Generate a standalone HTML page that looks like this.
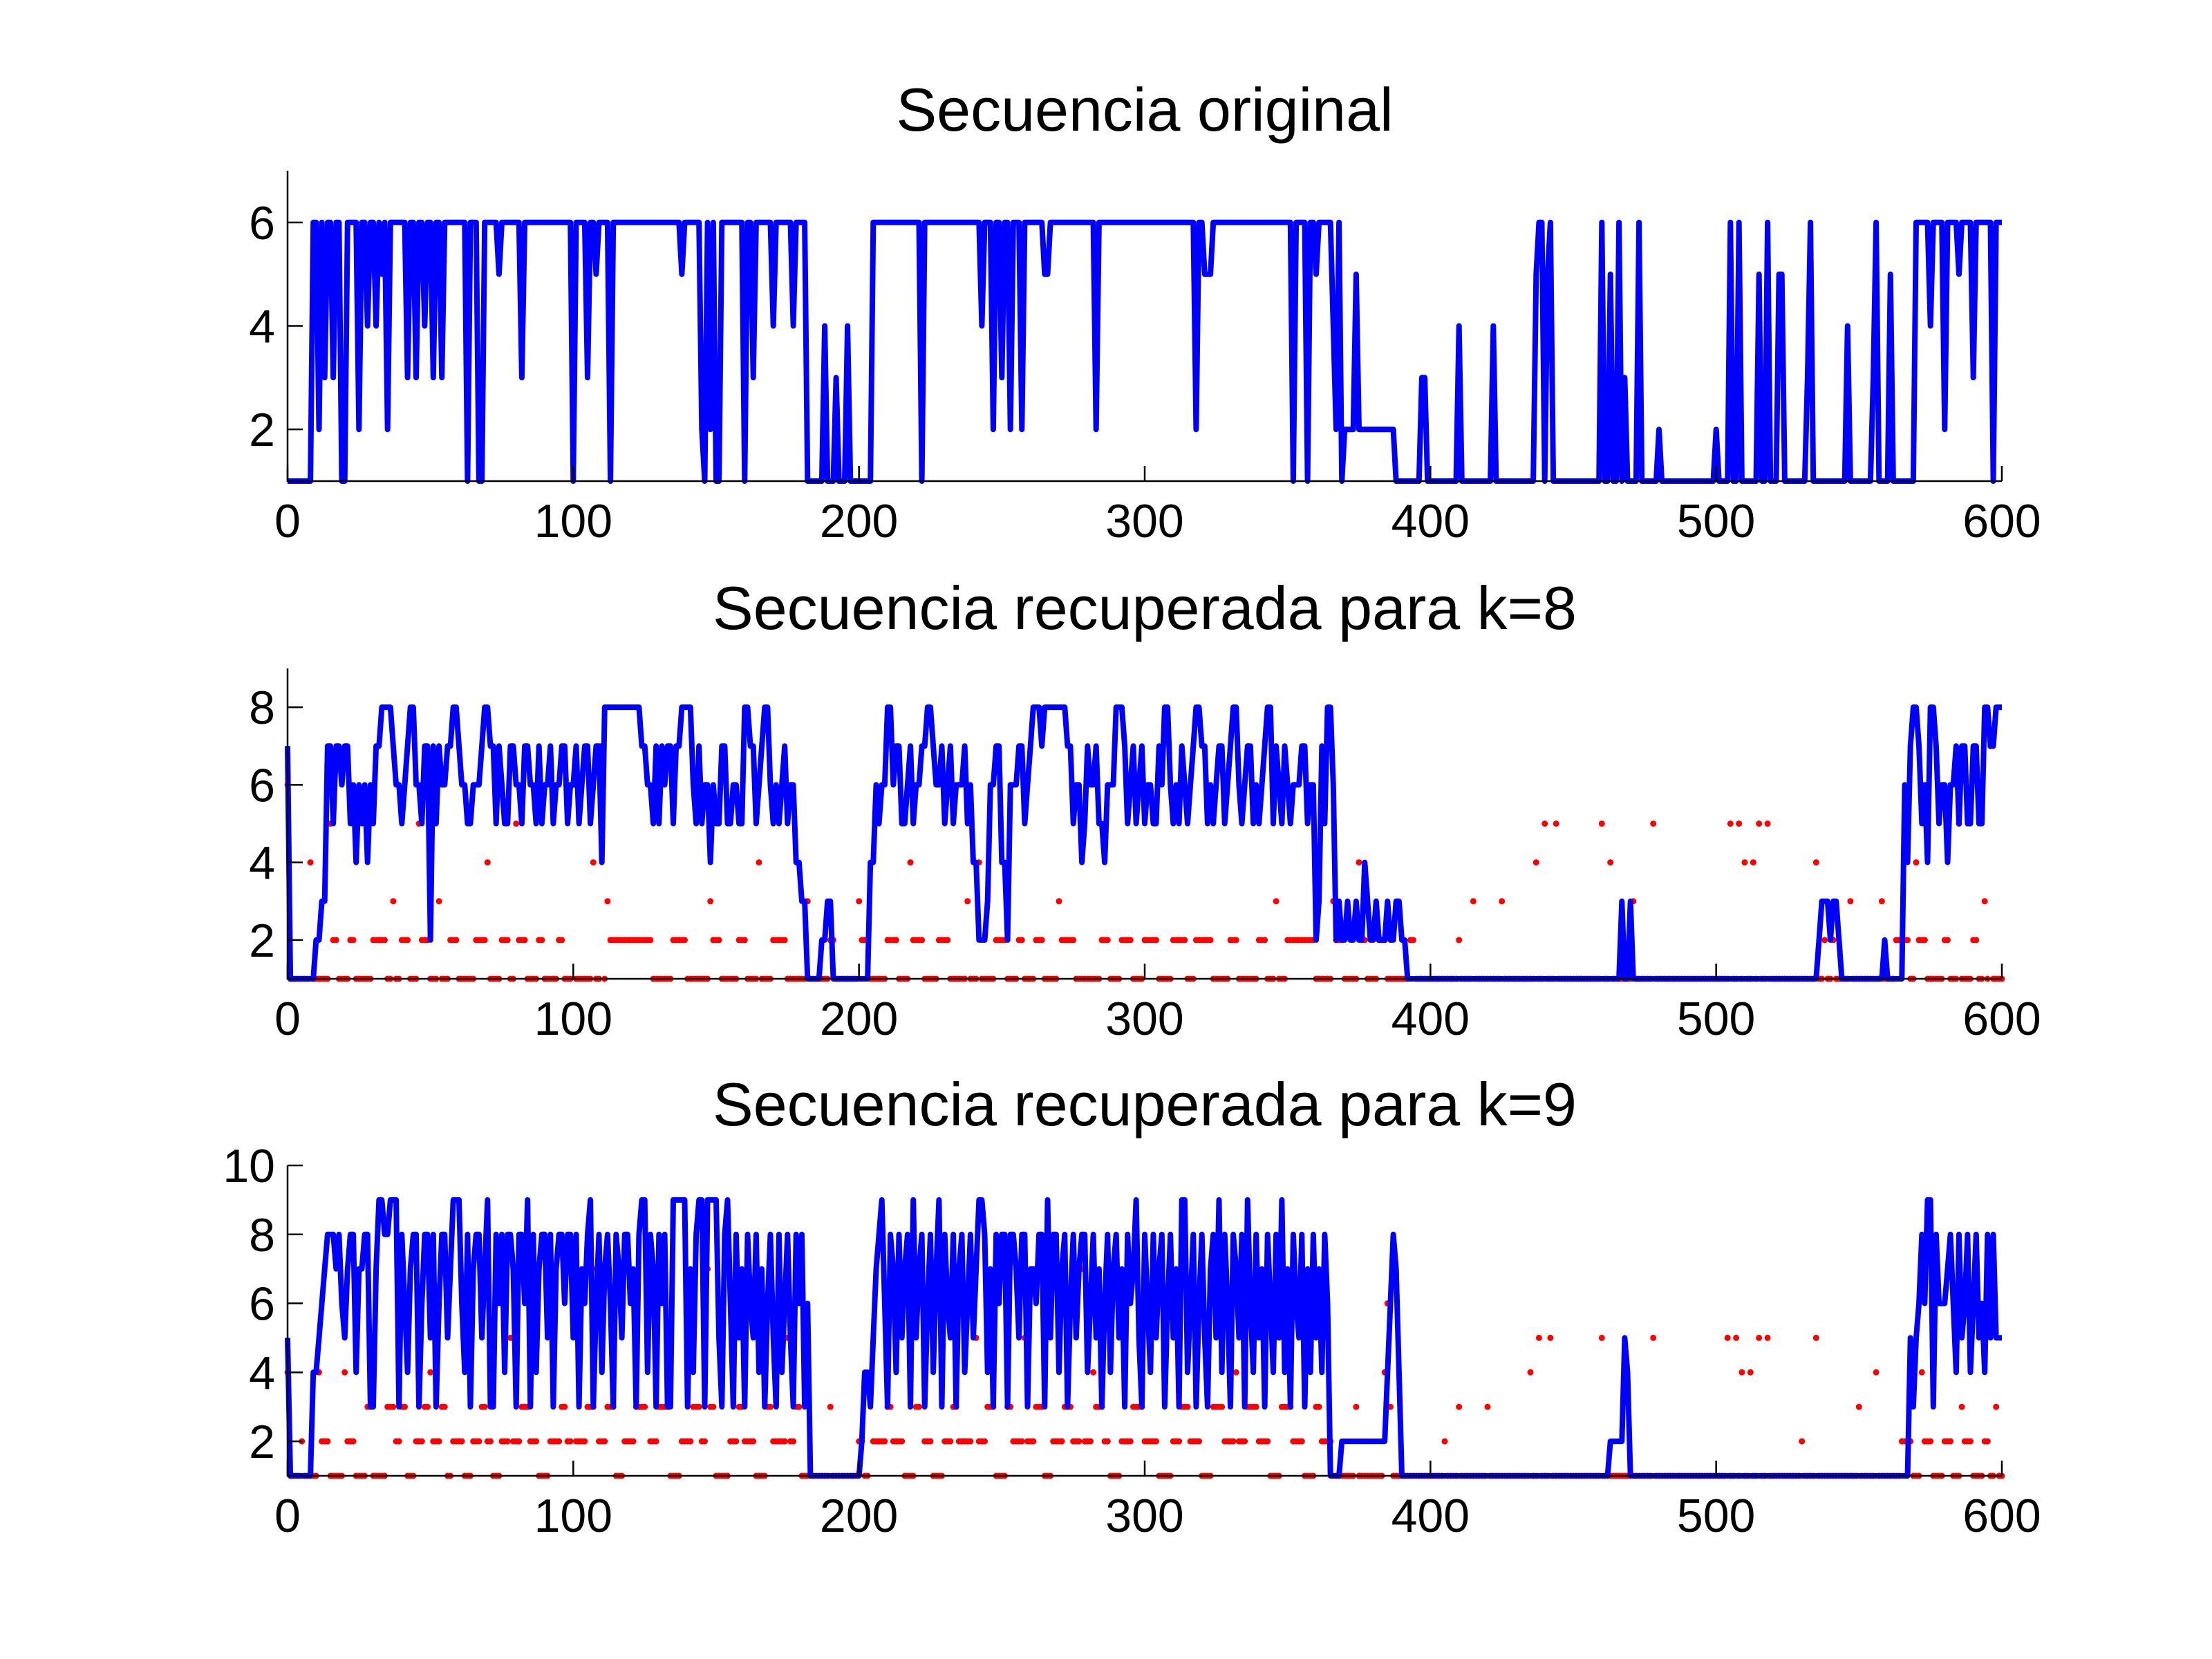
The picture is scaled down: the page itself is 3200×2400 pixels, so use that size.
<!DOCTYPE html>
<html><head><meta charset="utf-8">
<style>
html,body{margin:0;padding:0;background:#fff;}
svg{display:block;font-family:"Liberation Sans",Arial,sans-serif;}
</style></head>
<body>
<svg id="fig" width="3200" height="2400" viewBox="0 0 3200 2400" xmlns="http://www.w3.org/2000/svg">
<rect width="3200" height="2400" fill="#fff"/>
</svg>
<script>
// Data: breakpoints [x, value] — value holds from x until next breakpoint (end at 600)
const xTicks = [0,100,200,300,400,500,600];
const titles = ["Secuencia original","Secuencia recuperada para k=8","Secuencia recuperada para k=9"];
const yTicks1 = [2,4,6];
const yTicks2 = [2,4,6,8];
const yTicks3 = [2,4,6,8,10];
const yRange1 = [1,7];
const yRange2 = [1,9];
const yRange3 = [1,10];

const blue1 = [0,1,9,6,11,2,12,6,13,3,14,6,16,3,17,6,19,1,21,6,25,2,26,6,28,4,29,6,31,4,32,6,33,5,34,6,35,2,36,6,42,3,43,6,45,3,46,6,48,4,49,6,51,3,52,6,54,3,55,6,63,1,64,6,67,1,69,6,74,5,75,6,82,3,83,6,100,1,101,6,105,3,106,6,108,5,109,6,113,1,114,6,138,5,139,6,145,2,146,1,147,6,148,2,149,6,150,1,152,6,160,1,161,6,163,3,164,6,170,4,171,6,177,4,178,6,182,1,188,4,189,1,192,3,193,1,196,4,197,1,205,6,222,1,223,6,243,4,244,6,247,2,248,6,250,3,251,6,253,2,254,6,257,2,258,6,265,5,267,6,283,2,284,6,318,2,319,6,321,5,324,6,352,1,353,6,357,1,358,6,360,5,361,6,366,4,367,2,368,6,369,1,370,2,374,5,375,2,388,1,397,3,399,1,410,4,411,1,422,4,423,1,437,5,438,6,440,1,441,5,442,6,443,1,460,6,461,1,463,5,464,1,466,6,467,1,468,3,469,1,473,6,474,1,480,2,481,1,500,2,501,1,505,6,506,1,508,6,509,1,515,5,516,1,518,6,519,1,522,5,524,1,532,3,533,6,534,1,546,4,547,1,555,3,556,6,557,1,561,5,562,1,570,6,575,4,576,6,580,2,581,6,585,5,586,6,590,3,591,6,597,1,598,6];

const blue2 = [0,7,1,1,10,2,12,3,14,7,16,5,17,7,19,6,20,7,22,5,23,6,24,4,25,6,26,5,27,6,28,4,29,6,30,5,31,7,33,8,37,7,38,6,40,5,41,6,42,7,43,8,45,6,47,5,48,7,50,2,51,7,52,5,53,7,54,6,56,7,58,8,60,7,61,6,63,5,65,6,68,7,69,8,71,7,73,5,74,7,75,6,76,5,78,7,80,6,82,5,83,7,85,6,87,5,88,7,89,5,90,6,92,7,93,5,94,6,96,7,98,5,99,6,101,7,102,5,103,6,104,7,106,5,107,6,108,7,110,4,111,8,124,7,126,6,128,5,129,7,130,5,131,7,132,6,133,7,135,5,136,7,138,8,142,6,143,5,144,7,145,5,146,6,148,4,149,6,150,5,152,7,154,5,156,6,158,5,160,8,162,7,164,5,165,6,166,7,167,8,169,6,170,5,171,6,172,5,173,6,174,7,175,5,176,6,178,4,180,3,182,1,187,2,189,3,191,1,204,4,206,6,207,5,208,6,210,8,212,6,213,7,215,5,217,6,218,7,219,5,220,6,222,7,224,8,226,7,227,6,229,7,230,5,231,6,232,7,233,5,234,6,237,7,238,5,239,6,240,4,242,2,245,3,246,6,248,7,250,4,252,2,253,6,256,7,258,5,259,6,260,7,261,8,264,7,265,8,273,7,275,5,276,6,278,4,279,5,280,7,281,6,283,7,284,5,286,4,287,6,290,8,293,7,294,5,295,6,296,7,297,5,298,6,299,7,300,5,301,6,303,5,305,7,306,6,307,8,309,6,310,5,311,6,312,5,313,7,314,6,315,5,316,6,317,7,318,8,320,7,322,5,323,6,324,5,325,6,326,7,328,5,329,6,330,7,331,8,333,6,334,5,335,6,336,7,338,5,339,6,340,5,341,6,342,7,343,8,345,5,346,7,347,6,348,5,349,7,350,6,351,5,352,6,355,7,357,5,358,6,360,2,361,3,362,7,363,5,364,8,366,6,367,2,368,3,369,2,371,3,372,2,374,3,375,2,377,4,378,3,379,2,381,3,382,2,385,3,386,2,388,3,390,2,392,1,467,3,468,1,470,3,471,1,536,2,537,3,540,2,541,3,543,2,544,1,559,2,560,1,566,6,567,4,568,7,569,8,571,7,572,5,573,6,574,4,575,8,577,7,578,5,579,6,581,4,582,6,584,7,585,5,586,7,588,5,590,7,592,5,594,8,596,7,598,8];

const red2 = [0,6,1,1,8,4,9,1,15,5,16,2,18,1,22,2,24,1,30,2,35,1,37,3,38,1,40,2,43,1,46,5,47,2,50,1,53,3,54,1,57,2,60,1,66,2,70,4,71,1,75,2,78,1,80,5,81,2,84,1,88,2,90,1,95,2,97,1,100,6,101,1,107,4,108,1,110,7,111,1,112,3,113,2,128,1,135,2,140,1,148,3,149,2,152,1,158,2,161,1,165,4,166,1,170,2,175,1,182,3,183,1,190,2,192,1,200,3,201,2,204,1,210,2,214,1,218,4,219,2,223,1,228,2,232,1,238,3,239,1,242,4,243,1,248,2,252,1,256,2,258,1,262,2,265,1,270,3,271,2,276,1,285,2,288,1,292,2,296,1,300,2,305,1,310,2,315,1,318,2,324,1,330,2,333,1,340,2,343,1,346,3,347,1,350,2,360,1,366,3,367,2,370,1,375,4,376,2,378,1,382,2,385,1,393,2,395,1,410,2,411,1,415,3,416,1,425,3,426,1,437,4,438,1,440,5,441,1,444,5,445,1,460,5,461,1,463,4,464,1,471,3,472,1,478,5,479,1,505,5,506,1,508,5,509,1,510,4,511,1,513,4,514,1,515,5,516,1,518,5,519,1,535,4,536,1,538,2,539,1,541,2,542,1,547,3,548,1,558,3,559,1,563,2,568,1,570,4,571,2,574,1,580,2,582,1,585,5,586,1,590,2,592,1,594,3,595,1,596,7,597,1];

const blue3 = [0,5,1,1,9,4,11,5,12,6,13,7,14,8,17,7,18,8,19,6,20,5,21,7,22,8,24,4,25,7,27,8,29,3,31,7,32,9,34,8,36,9,39,3,40,8,41,6,42,4,43,7,44,8,46,3,47,6,48,8,50,5,51,8,52,3,53,6,54,8,56,5,57,7,58,9,61,6,62,4,63,8,64,3,65,7,66,8,68,5,69,7,70,9,71,3,73,8,74,6,75,8,76,4,77,8,79,7,80,3,81,8,83,6,84,9,85,3,86,8,87,4,88,7,89,8,91,5,92,8,93,3,94,7,95,8,97,6,98,8,100,5,101,8,102,3,103,7,104,6,105,8,106,9,107,3,108,6,109,8,110,4,111,7,112,8,113,6,114,3,115,8,116,7,117,5,118,8,120,6,121,7,122,3,123,8,124,9,126,4,127,8,128,7,129,3,130,8,131,6,132,8,133,3,135,9,140,3,141,7,142,4,143,8,144,9,146,3,147,9,151,5,152,3,153,8,154,9,155,6,156,3,157,8,158,5,159,7,160,3,161,8,162,6,163,5,164,8,165,4,166,7,167,3,168,6,169,8,170,5,171,3,172,8,173,4,174,6,175,8,176,5,177,3,178,8,179,6,180,8,181,3,182,6,183,1,201,2,202,4,204,3,205,5,206,7,207,8,208,9,209,6,210,3,211,8,212,7,213,4,214,8,215,5,216,7,217,8,218,3,219,9,220,5,221,7,222,8,223,3,224,6,225,8,226,4,227,7,228,9,229,3,230,8,231,6,232,5,233,8,234,3,235,7,236,8,237,4,238,6,239,8,240,5,241,7,242,9,244,8,245,4,246,7,247,3,248,8,249,6,250,8,252,3,253,8,255,7,256,5,257,8,259,3,260,7,262,6,263,8,265,3,266,9,267,5,268,8,270,4,271,7,272,8,273,3,274,6,275,8,276,5,277,7,278,8,280,4,281,6,282,8,283,5,284,7,285,3,286,6,287,8,288,4,289,7,290,8,291,5,292,7,293,3,294,8,295,6,296,7,297,9,298,5,299,3,300,8,301,6,302,4,303,8,304,5,305,7,306,8,307,3,308,6,309,8,310,5,311,7,312,3,313,9,315,4,316,6,317,8,318,3,319,6,320,8,321,5,322,3,323,7,324,8,325,5,326,9,327,4,328,8,329,6,330,3,331,8,332,7,333,5,334,8,335,3,336,9,337,6,338,4,339,8,340,5,341,7,342,3,343,8,344,6,345,4,346,8,347,5,348,9,349,4,350,7,351,3,352,8,353,6,354,5,355,8,356,3,357,7,358,4,359,8,360,5,361,7,362,4,363,8,364,6,365,1,369,2,385,4,386,6,387,8,388,7,389,4,390,1,463,2,468,5,469,4,470,1,568,5,569,3,570,5,571,6,572,8,573,6,574,9,576,3,577,8,578,6,581,7,582,8,583,6,584,4,585,8,586,5,587,6,588,8,589,4,590,6,591,8,592,5,593,6,594,4,595,8,596,5,597,8,598,5];

const red3 = [0,4,1,1,5,2,6,1,11,4,12,2,15,1,20,4,21,2,24,1,28,3,30,1,35,3,38,2,40,3,42,1,45,2,48,3,50,4,51,2,54,3,56,1,58,2,62,1,65,2,68,3,70,2,72,1,75,2,78,5,79,2,82,3,85,2,88,1,92,2,96,3,98,2,100,7,101,2,105,3,108,7,109,2,112,3,115,1,118,2,122,3,126,6,127,2,130,3,134,1,138,2,142,3,145,2,147,7,148,3,150,1,155,2,158,3,160,2,164,1,168,3,170,2,175,5,176,2,178,3,180,1,190,3,191,1,200,2,202,1,204,4,205,2,210,3,212,2,216,1,220,3,222,7,223,2,226,1,230,2,233,3,235,2,240,7,241,5,242,2,245,3,248,1,252,3,254,2,258,5,259,2,262,3,265,1,268,2,272,3,275,2,278,7,279,2,282,4,283,3,286,2,288,1,292,2,296,3,300,2,305,1,310,2,313,3,316,2,320,1,324,3,328,2,332,4,333,2,336,3,340,2,344,1,348,3,352,2,356,1,360,3,362,2,366,1,374,3,375,1,384,4,385,6,386,3,387,1,405,2,406,1,410,3,411,1,420,3,421,1,435,4,436,1,438,5,439,1,442,5,443,1,460,5,461,1,478,5,479,1,504,5,505,1,507,5,508,1,509,4,510,1,512,4,513,1,515,5,516,1,518,5,519,1,530,2,531,1,535,5,536,1,550,3,551,1,556,4,557,1,565,2,569,1,572,4,573,2,576,1,580,2,583,1,586,3,587,2,590,1,594,2,596,1,598,3,599,1];

function expand(bp){
  const out=[];
  for(let k=0;k<bp.length;k+=2){
    const s=bp[k], v=bp[k+1], e=(k+2<bp.length)?bp[k+2]:601;
    for(let i=s;i<e && i<=600;i++) out.push(v);
  }
  return out;
}

const NS="http://www.w3.org/2000/svg";
const svg=document.getElementById('fig');
const X0=416, X1=2896;
const panels=[
 {top:247,bot:696,yr:yRange1,yt:yTicks1,blue:blue1,red:null,title:titles[0],ty:159,name:'original'},
 {top:967,bot:1416,yr:yRange2,yt:yTicks2,blue:blue2,red:red2,title:titles[1],ty:880,name:'k8'},
 {top:1686,bot:2135,yr:yRange3,yt:yTicks3,blue:blue3,red:red3,title:titles[2],ty:1598,name:'k9'}
];
function mk(tag,attrs){const e=document.createElementNS(NS,tag);for(const k in attrs)e.setAttribute(k,attrs[k]);return e;}

panels.forEach(p=>{
  const g=mk('g',{});
  
  
  svg.appendChild(g);
  const xs=v=>X0+(v/600)*(X1-X0);
  const ys=v=>p.bot-(v-p.yr[0])/(p.yr[1]-p.yr[0])*(p.bot-p.top);
  const t=mk('text',{x:(X0+X1)/2,y:p.ty+30,'font-size':88,'text-anchor':'middle',fill:'#000'});
  t.textContent=p.title;
  
  
  g.appendChild(t);
  if(p.red){
    const rd=expand(p.red);
    const rg=mk('g',{fill:'#ff0000'});
    
    
    rd.forEach((v,i)=>{
      const c=mk('circle',{cx:xs(i).toFixed(1),cy:ys(v).toFixed(1),r:4.5});
      rg.appendChild(c);
    });
    g.appendChild(rg);
  }
  const bd=expand(p.blue);
  const pts=bd.map((v,i)=>xs(i).toFixed(1)+','+ys(v).toFixed(1)).join(' ');
  const pl=mk('polyline',{points:pts,fill:'none',stroke:'#0000ff','stroke-width':8,'stroke-linejoin':'round'});
  
  
  g.appendChild(pl);
  const ax=mk('path',{d:`M${X0},${p.top}V${p.bot}H${X1}`,fill:'none',stroke:'#000','stroke-width':2.5});
  
  
  g.appendChild(ax);
  xTicks.forEach(v=>{
    const x=xs(v);
    g.appendChild(mk('line',{x1:x,x2:x,y1:p.bot,y2:p.bot-22,stroke:'#000','stroke-width':2.5}));
    const l=mk('text',{x:x,y:p.bot+81,'font-size':68,'text-anchor':'middle',fill:'#000'});
    l.textContent=v;
    
    
    g.appendChild(l);
  });
  p.yt.forEach(v=>{
    const y=ys(v);
    g.appendChild(mk('line',{x1:X0,x2:X0+22,y1:y,y2:y,stroke:'#000','stroke-width':2.5}));
    const l=mk('text',{x:X0-18,y:y+24,'font-size':68,'text-anchor':'end',fill:'#000'});
    l.textContent=v;
    
    
    g.appendChild(l);
  });
});
</script>
</body></html>
